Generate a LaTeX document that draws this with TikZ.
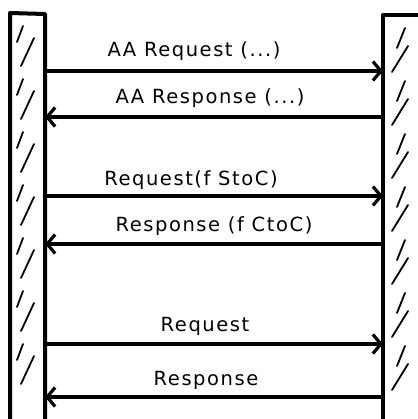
\documentclass[tikz,border=0pt]{standalone}
\usepackage{fontspec}
\setmainfont{DejaVu Sans}
\usetikzlibrary{arrows.meta}
\begin{document}
\begin{tikzpicture}[x=1pt,y=-1pt,
  bar/.style={line width=4pt,line join=round},
  hatch/.style={line width=1.8pt,line cap=round},
  msg/.style={line width=3.2pt,-{Straight Barb[length=8pt,width=19pt,line width=3.2pt]}},
  lbl/.style={font=\fontsize{19.5}{22}\selectfont\addfontfeatures{LetterSpace=8}}]
\useasboundingbox (0,0) rectangle (417,419);
% bars
\draw[bar] (45,440) -- (45,14) -- (10,13) -- (10,440);
\draw[bar] (383,440) -- (383,15) -- (420,15);
% hatching left
\foreach \y in {22,75,128,181,234,287,340}{
  \draw[hatch] (17,\y+20) -- (23,\y+4);
  \draw[hatch] (21,\y+44) -- (34,\y+16);
}
\foreach \y in {22,75,128,181,234,287,340}{
  \draw[hatch] (397,\y+26) -- (405,\y+6);
  \draw[hatch] (392,\y+50) -- (408,\y+24);
}
% endpoints
\coordinate (a1) at (45,71);  \coordinate (b1) at (383,71);
\coordinate (a2) at (45,117); \coordinate (b2) at (383,117);
\coordinate (a3) at (45,196); \coordinate (b3) at (383,196);
\coordinate (a4) at (45,244); \coordinate (b4) at (383,244);
\coordinate (a5) at (45,344); \coordinate (b5) at (383,344);
\coordinate (a6) at (45,397); \coordinate (b6) at (383,397);
\draw[msg] (a1) -- (b1);
\draw[msg] (b2) -- (a2);
\draw[msg] (a3) -- (b3);
\draw[msg] (b4) -- (a4);
\draw[msg] (a5) -- (b5);
\draw[msg] (b6) -- (a6);
% labels
\node[lbl] (t1) at (194,51) {AA Request (...)};
\node[lbl] (t2) at (210,98) {AA Response (...)};
\node[lbl] (t3) at (191,180) {Request(f StoC)};
\node[lbl] (t4) at (214,226) {Response (f CtoC)};
\node[lbl] (t5) at (205,326) {Request};
\node[lbl] (t6) at (206,380) {Response};
\end{tikzpicture}
\end{document}
